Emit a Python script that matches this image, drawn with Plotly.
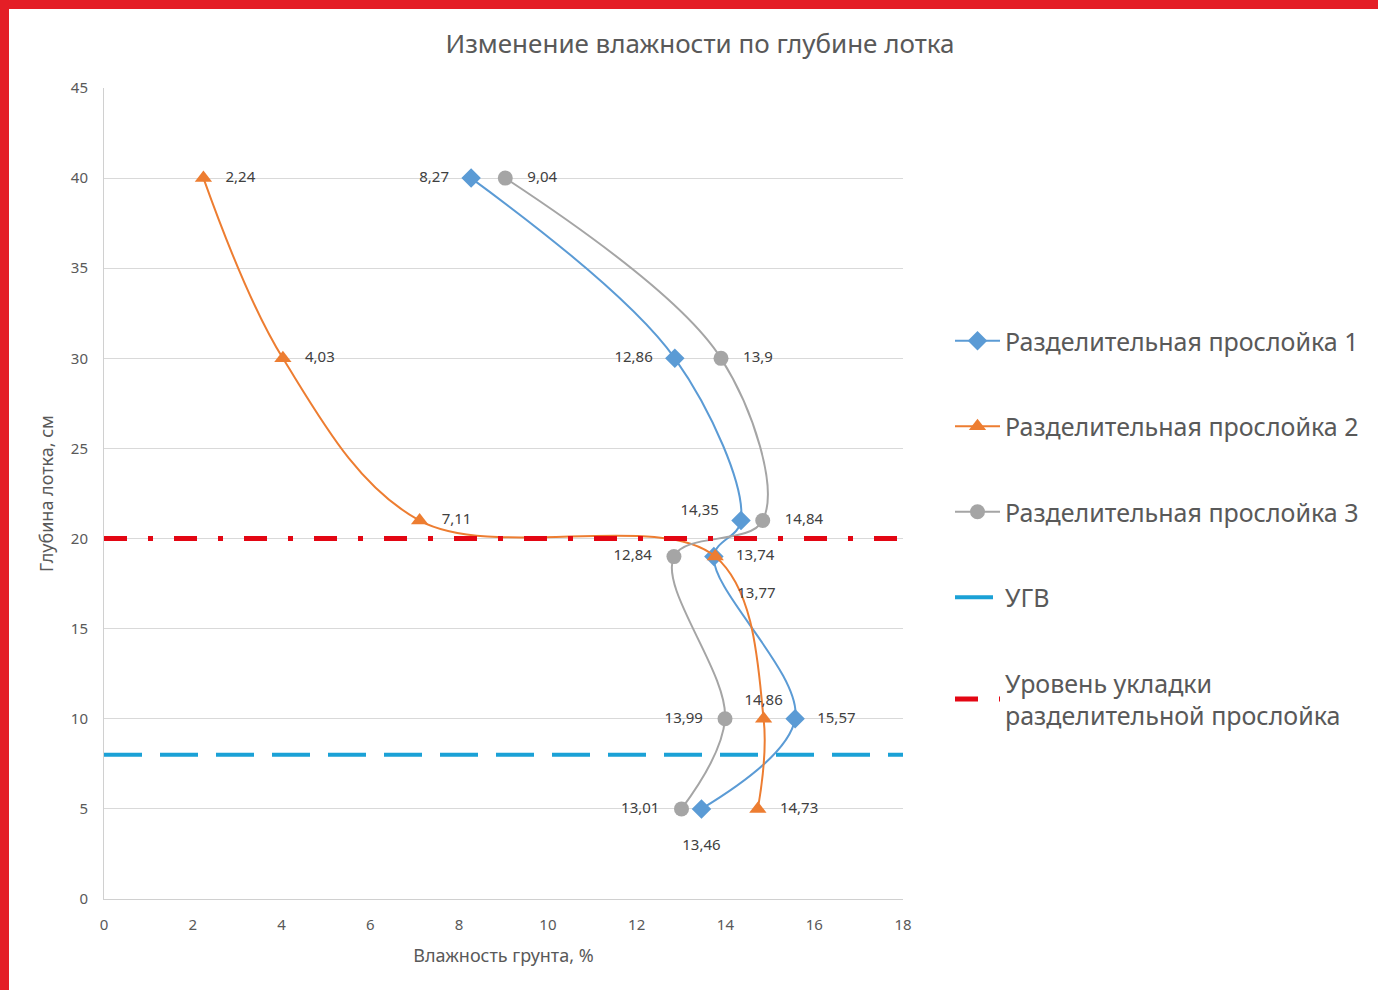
import plotly.graph_objects as go

# ---- data ----
depth = [40, 30, 21, 19, 10, 5]
s1_moist = [8.27, 12.86, 14.35, 13.74, 15.57, 13.46]
s2_moist = [2.24, 4.03, 7.11, 13.77, 14.86, 14.73]
s3_moist = [9.04, 13.9, 14.84, 12.84, 13.99, 13.01]
s1_label_pos = ["middle left", "middle left", "middle left", "middle right", "middle right", "bottom center"]
s2_label_pos = ["middle right", "middle right", "middle right", "bottom right", "top center", "middle right"]
s3_label_pos = ["middle right", "middle right", "middle right", "middle left", "middle left", "middle left"]
names = ["Разделительная прослойка 1", "Разделительная прослойка 2", "Разделительная прослойка 3",
         "УГВ", "Уровень укладки<br>разделительной прослойка"]
ugv_level = 8
layer_level = 20
x_range = [0, 18]
y_range = [0, 45]

W, H = 1378, 990
L, R, T, B = 104, 903, 88, 899  # plot area in pixels

BLUE = "#5b9bd5"
ORANGE = "#ed7d31"
GRAY = "#a5a5a5"
TXT = "#595959"
LBL = "#404040"
FONT = "Noto Sans"


def fmt(v):
    return ("%g" % v).replace(".", ",")


fig = go.Figure()


def add_series(xs, ys, name, color, symbol, size, pos):
    texts = []
    for v, p in zip(xs, pos):
        t = "   " + fmt(v) + "   "
        if p.startswith("bottom"):
            t = "<br>" + t
        elif p == "middle left" and name == names[0] and v == xs[2]:
            t = t + "<br> "
        texts.append(t)
    fig.add_trace(go.Scatter(
        x=xs, y=ys, name=name, mode="lines+markers+text",
        line=dict(color=color, width=2, shape="spline", smoothing=1),
        marker=dict(color=color, symbol=symbol, size=size),
        text=texts, textposition=pos,
        textfont=dict(family=FONT, size=15, color=LBL),
        legendgroup=name,
    ))


add_series(s1_moist, depth, names[0], BLUE, "diamond", 15, s1_label_pos)
add_series(s2_moist, depth, names[1], ORANGE, "triangle-up", 15, s2_label_pos)
add_series(s3_moist, depth, names[2], GRAY, "circle", 15, s3_label_pos)

fig.add_trace(go.Scatter(
    x=x_range, y=[ugv_level, ugv_level], mode="lines", name=names[3],
    line=dict(color="#1ba1d6", width=4, dash="38px,18px"), legendgroup=names[3],
))
fig.add_trace(go.Scatter(
    x=x_range, y=[layer_level, layer_level], mode="lines", name=names[4],
    line=dict(color="#e30613", width=5, dash="23px,21px,5px,21px"), legendgroup=names[4],
))

pw, ph = R - L, B - T


def px_x(p):
    return (p - L) / pw


def px_y(p):
    return (B - p) / ph


shapes = [
    dict(type="rect", xref="paper", yref="paper", x0=px_x(0), x1=px_x(W), y0=px_y(9), y1=px_y(0),
         fillcolor="#e41e26", line=dict(width=0), layer="above"),
    dict(type="rect", xref="paper", yref="paper", x0=px_x(0), x1=px_x(9), y0=px_y(H), y1=px_y(0),
         fillcolor="#e41e26", line=dict(width=0), layer="above"),
]

fig.update_layout(
    width=W, height=H,
    margin=dict(l=L, r=W - R, t=T, b=H - B, autoexpand=False),
    paper_bgcolor="white", plot_bgcolor="white",
    shapes=shapes,
    title=dict(text="Изменение влажности по глубине лотка", x=700 / W, xanchor="center",
               y=1 - 44 / H, yanchor="middle",
               font=dict(family=FONT, size=26, color=TXT)),
    xaxis=dict(range=x_range, dtick=2, showgrid=False, zeroline=False,
               showline=True, linecolor="#d0d0d0", linewidth=1,
               ticks="outside", ticklen=12, tickcolor="rgba(0,0,0,0)",
               tickfont=dict(family=FONT, size=15, color=TXT),
               title=dict(text="Влажность грунта, %", font=dict(family=FONT, size=18, color=TXT), standoff=16)),
    yaxis=dict(range=y_range, dtick=5, showgrid=True, gridcolor="#d9d9d9", zeroline=False,
               showline=True, linecolor="#d0d0d0", linewidth=1,
               ticks="outside", ticklen=12, tickcolor="rgba(0,0,0,0)",
               tickfont=dict(family=FONT, size=15, color=TXT),
               title=dict(text="Глубина лотка, см", font=dict(family=FONT, size=18, color=TXT), standoff=12)),
    legend=dict(x=px_x(950), xanchor="left", y=px_y(318), yanchor="top",
                font=dict(family=FONT, size=25, color=TXT), tracegroupgap=50,
                itemwidth=45, bgcolor="rgba(0,0,0,0)"),
    showlegend=True,
)

fig.write_html("out.html", config={"displayModeBar": False},
               post_script="document.body.style.margin='0px';")
